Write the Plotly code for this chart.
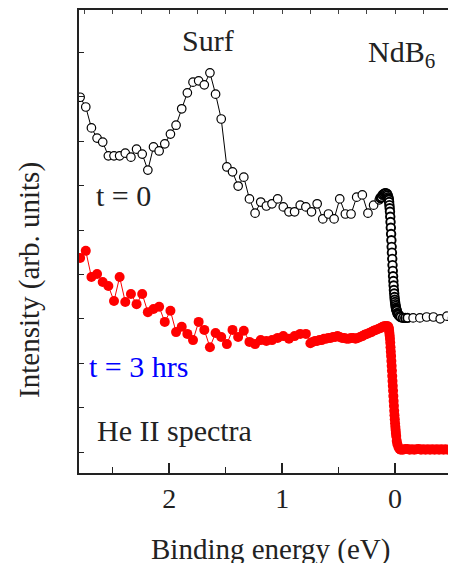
import plotly.graph_objects as go

# ---- data ----
# t = 0 spectrum, coarse part (binding energy in eV)
e0_coarse = [round(2.79 - 0.05 * i, 3) for i in range(54)]
i0_coarse = [79.9, 77.7, 73.0, 70.7, 69.8, 66.7, 66.7, 66.7, 67.3, 66.4,
             68.2, 67.1, 63.5, 68.7, 67.8, 69.4, 71.6, 73.6, 77.3, 80.9,
             83.3, 83.6, 82.7, 85.4, 80.6, 75.0, 64.2, 63.1, 59.9, 61.9,
             57.0, 53.8, 56.3, 55.4, 55.9, 57.0, 55.2, 54.1, 54.1, 55.6,
             55.2, 54.1, 55.9, 52.5, 53.6, 52.5, 57.0, 53.6, 53.6, 57.4,
             57.9, 53.8, 55.6, 56.8]
# t = 0 spectrum, fine part around the Fermi edge
e0_fine = [0.13, 0.12, 0.11, 0.10, 0.09, 0.08, 0.07, 0.065, 0.06, 0.0575,
           0.055, 0.0525, 0.05, 0.0475, 0.045, 0.0425, 0.04, 0.0375, 0.035,
           0.0325, 0.03, 0.0275, 0.025, 0.0225, 0.02, 0.0175, 0.015, 0.0125,
           0.01, 0.0075, 0.005, 0.0025, 0.0, -0.0025, -0.005, -0.0075, -0.01,
           -0.0125, -0.015, -0.02, -0.025, -0.03, -0.04, -0.05, -0.07, -0.09,
           -0.11]
i0_fine = [57.2, 57.4, 57.9, 58.1, 58.3, 58.3, 58.1, 57.8, 57.4, 57.1,
           56.8, 56.3, 55.6, 54.9, 54.1, 53.0, 51.8, 50.5, 49.1, 47.7,
           46.2, 44.9, 43.5, 42.1, 40.8, 39.6, 38.5, 37.5, 36.5, 35.7,
           34.9, 34.3, 33.8, 33.3, 32.9, 32.5, 32.2, 32.0, 31.8, 31.3,
           31.1, 30.9, 30.6, 30.4, 30.2, 30.2, 30.2]
# t = 0 spectrum, coarse tail above E_F
e0_tail = [-0.16, -0.22, -0.28, -0.34, -0.40, -0.46, -0.51]
i0_tail = [30.2, 30.2, 30.4, 30.4, 30.0, 30.6, 30.2]

# t = 3 hrs spectrum, coarse part
e3_coarse = [round(2.79 - 0.05 * i, 3) for i in range(41)]
i3_coarse = [43.7, 45.3, 39.4, 40.1, 38.3, 37.4, 34.0, 39.4, 33.8, 35.6,
             33.3, 35.6, 31.5, 32.2, 32.7, 29.3, 31.8, 27.0, 28.2, 26.6,
             25.2, 29.3, 27.5, 23.6, 26.8, 25.9, 24.3, 27.5, 25.9, 27.3,
             24.8, 24.3, 25.2, 25.0, 25.2, 25.7, 26.1, 25.5, 26.1, 26.6,
             26.6]
# t = 3 hrs spectrum, fine part
e3_fine = [0.75, 0.73, 0.71, 0.69, 0.67, 0.65, 0.63, 0.61, 0.59, 0.57,
           0.55, 0.53, 0.51, 0.49, 0.47, 0.45, 0.43, 0.41, 0.39, 0.37,
           0.35, 0.33, 0.31, 0.29, 0.27, 0.25, 0.23, 0.21, 0.19, 0.17,
           0.15, 0.13, 0.11, 0.09, 0.07, 0.06, 0.0575, 0.055, 0.0525, 0.05,
           0.0475, 0.045, 0.0425, 0.04, 0.0375, 0.035, 0.0325, 0.03, 0.0275,
           0.025, 0.0225, 0.02, 0.0175, 0.015, 0.0125, 0.01, 0.0075, 0.005,
           0.0025, 0.0, -0.0025, -0.005, -0.0075, -0.01, -0.015, -0.02,
           -0.03, -0.04, -0.05, -0.07, -0.09, -0.11, -0.13, -0.15, -0.17,
           -0.19, -0.21, -0.23, -0.25, -0.27, -0.29, -0.31, -0.33, -0.35,
           -0.37, -0.39, -0.41, -0.43, -0.45, -0.47, -0.49, -0.51, -0.53,
           -0.55]
i3_fine = [24.5, 24.8, 25.0, 25.0, 25.2, 25.2, 25.5, 25.5, 25.7, 25.7,
           25.9, 25.9, 26.1, 25.9, 25.7, 25.7, 25.5, 25.5, 25.7, 25.7,
           25.5, 25.7, 25.9, 26.1, 26.4, 26.6, 26.8, 27.0, 27.3, 27.5,
           27.7, 27.9, 28.2, 28.4, 28.4, 28.2, 28.0, 27.7, 27.3, 26.8,
           26.2, 25.5, 24.6, 23.6, 22.6, 21.6, 20.5, 19.4, 18.3, 17.1,
           16.0, 14.9, 13.8, 12.6, 11.5, 10.4, 9.3, 8.3, 7.4, 6.5,
           5.7, 5.0, 4.3, 3.6, 2.5, 1.8, 1.1, 0.7, 0.5, 0.5,
           0.7, 0.7, 0.5, 0.6, 0.5, 0.6, 0.7, 0.5, 0.6, 0.5,
           0.6, 0.5, 0.6, 0.5, 0.6, 0.5, 0.6, 0.5, 0.6, 0.5,
           0.6, 0.5, 0.6, 0.5]

x_ticks = [2, 1, 0]
x_range = [2.8, -0.54]
y_range = [-4.73, 99.55]

FONT = "Liberation Serif, Times New Roman, serif"
TXT = "#222222"

e0 = e0_coarse + e0_fine + e0_tail
i0 = i0_coarse + i0_fine + i0_tail
edge_lw = ([1.2] * len(e0_coarse) + [1.9] * len(e0_fine) + [1.2] * len(e0_tail))
e3 = e3_coarse + e3_fine
i3 = i3_coarse + i3_fine

fig = go.Figure()
fig.add_trace(go.Scatter(
    x=e3, y=i3, mode="lines+markers",
    line=dict(color="#ff0000", width=1),
    marker=dict(color="#ff0000", size=10, line=dict(width=0)),
    showlegend=False))
fig.add_trace(go.Scatter(
    x=e0, y=i0, mode="lines+markers",
    line=dict(color="#000000", width=1),
    marker=dict(color="#ffffff", size=8.5, symbol="circle",
                line=dict(color="#000000", width=edge_lw)),
    showlegend=False))
# invisible trace to drive the top axis
fig.add_trace(go.Scatter(x=[x_range[0]], y=[y_range[0]], xaxis="x2",
                         mode="markers", marker=dict(opacity=0),
                         showlegend=False, hoverinfo="skip"))

fig.update_layout(
    width=448, height=555,
    margin=dict(l=71, r=0, t=2, b=90),
    paper_bgcolor="white", plot_bgcolor="white",
    font=dict(family=FONT, size=28, color=TXT),
    xaxis=dict(range=x_range, tickmode="array", tickvals=x_ticks,
               ticktext=[str(v) for v in x_ticks],
               ticks="inside", ticklen=10, tickwidth=1.5, tickcolor="#222",
               minor=dict(ticks="inside", ticklen=6, tickwidth=1.2,
                          tickcolor="#222", dtick=0.5, tick0=0),
               showline=True, linecolor="#222", linewidth=1.5,
               showgrid=False, zeroline=False,
               tickfont=dict(family=FONT, size=28, color=TXT)),
    xaxis2=dict(range=x_range, overlaying="x", side="top",
                tickmode="linear", tick0=0, dtick=0.25,
                ticks="inside", ticklen=4, tickwidth=1, tickcolor="#444",
                showticklabels=False, showline=True, linecolor="#222",
                linewidth=1.5, showgrid=False, zeroline=False),
    yaxis=dict(range=y_range, tickmode="linear", tick0=0, dtick=10,
               ticks="inside", ticklen=5, tickwidth=1, tickcolor="#222",
               showticklabels=False, showline=True, linecolor="#222",
               linewidth=1.5, showgrid=False, zeroline=False),
)

def ann(text, x, y, color=TXT, size=30, angle=0):
    fig.add_annotation(text=text, x=x, y=y, xref="paper", yref="paper",
                       showarrow=False, textangle=angle,
                       font=dict(family=FONT, size=size, color=color),
                       xanchor="center", yanchor="middle")

ann("Surf", 0.342, 0.935)
ann("NdB<sub>6</sub>", 0.855, 0.905)
ann("t = 0", 0.117, 0.600)
ann("t = 3 hrs", 0.159, 0.231, color="#0000ff")
ann("He II spectra", 0.252, 0.091)
ann("Binding energy (eV)", 0.509, -0.166, size=29)
ann("Intensity (arb. units)", -0.130, 0.417, size=29, angle=-90)

fig.write_html("out.html")
